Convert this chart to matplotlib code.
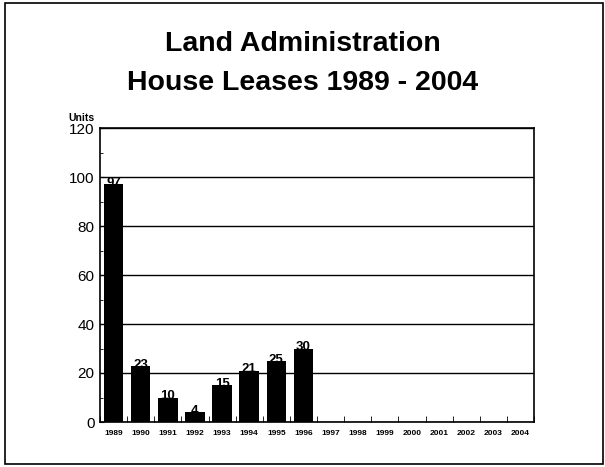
import matplotlib.pyplot as plt
import matplotlib.patches as mpatches
import numpy as np

plt.rcParams["font.family"] = ["Liberation Sans", "DejaVu Sans"]

# House leases per year
years = [str(y) for y in range(1989, 2005)]
leases = [97, 23, 10, 4, 15, 21, 25, 30, None, None, None, None, None, None, None, None]

fig = plt.figure(figsize=(6.05, 4.67), dpi=100)

# Outer frame around the whole slide
fig.patches.append(
    mpatches.Rectangle(
        (5 / 605, 3 / 467), 598 / 605, 461 / 467,
        transform=fig.transFigure, fill=False, edgecolor="black", linewidth=1.2,
    )
)

fig.text(0.5, 0.905, "Land Administration", ha="center", va="center",
         fontsize=20.5, fontweight="bold")
fig.text(0.5, 0.822, "House Leases 1989 - 2004", ha="center", va="center",
         fontsize=20.5, fontweight="bold")
fig.text(68 / 605, 1 - 118 / 467, "Units", ha="left", va="center",
         fontsize=7.5, fontweight="bold")

ax = fig.add_axes([100 / 605, 1 - 422 / 467, 434 / 605, 294 / 467])

x = np.arange(len(years))
heights = [v if v is not None else 0 for v in leases]
ax.bar(x, heights, width=0.72, color="black", zorder=3)

for xi, v in zip(x, leases):
    if v is not None:
        ax.text(xi, v - 2, str(v), ha="center", va="bottom",
                fontsize=9.5, fontweight="bold", zorder=4)

ax.set_xlim(-0.5, len(years) - 0.5)
ax.set_ylim(0, 120)
ax.set_yticks(range(0, 121, 20))
ax.set_yticks(range(0, 121, 10), minor=True)
ax.yaxis.grid(True, color="black", linewidth=1.0, zorder=1)
ax.tick_params(axis="y", labelsize=11, length=3, direction="in", pad=4)
ax.tick_params(axis="y", which="minor", length=2, direction="in")

# Category ticks sit between the bars, labels under each bar
ax.set_xticks(x)
ax.set_xticklabels(years, fontsize=6, fontweight="bold")
ax.set_xticks(np.arange(-0.5, len(years), 1), minor=True)
ax.tick_params(axis="x", which="major", length=0, pad=6)
ax.tick_params(axis="x", which="minor", length=4, direction="in")

for side in ["left", "right", "top", "bottom"]:
    ax.spines[side].set_linewidth(1.2)

plt.savefig("out.png", dpi=100)
